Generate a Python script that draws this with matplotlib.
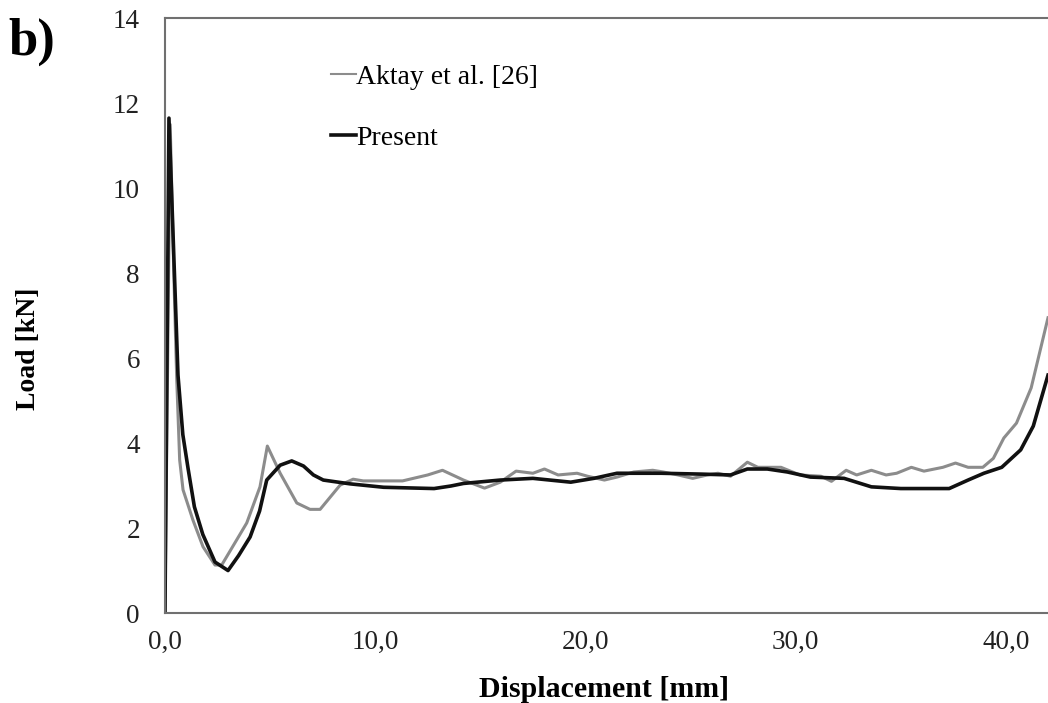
import numpy as np
import matplotlib
matplotlib.use('Agg')
import matplotlib.pyplot as plt
from matplotlib.ticker import FuncFormatter, MultipleLocator

plt.rcParams['font.family'] = ['Liberation Serif', 'DejaVu Serif']

# load-displacement curves (displacement in mm, load in kN)
aktay_disp = [0.0, 0.25, 0.42, 0.56, 0.7, 0.86, 1.33, 1.81, 2.38, 2.7, 3.41,
              3.89, 4.52, 4.87, 5.48, 6.27, 6.9, 7.38, 8.33, 8.95, 9.43,
              11.3, 12.5, 13.2, 14.2, 15.2, 15.95, 16.7, 17.5, 18.05, 18.7,
              19.6, 20.1, 20.9, 21.5, 22.3, 23.2, 23.7, 24.4, 25.1, 25.8,
              26.3, 26.9, 27.7, 28.2, 29.3, 30.2, 31.2, 31.7, 32.4, 32.9,
              33.6, 34.3, 34.8, 35.5, 36.1, 37.0, 37.6, 38.2, 38.9, 39.4,
              39.9, 40.5, 41.2, 42.0]
aktay_load = [0.0, 11.5, 8.0, 5.5, 3.6, 2.9, 2.19, 1.56, 1.13, 1.13, 1.72,
              2.12, 2.97, 3.93, 3.29, 2.59, 2.44, 2.44, 3.01, 3.15, 3.11,
              3.11, 3.25, 3.36, 3.13, 2.94, 3.08, 3.34, 3.29, 3.39, 3.25,
              3.29, 3.22, 3.13, 3.2, 3.32, 3.36, 3.32, 3.25, 3.17, 3.25,
              3.29, 3.22, 3.55, 3.43, 3.43, 3.25, 3.22, 3.1, 3.36, 3.25,
              3.36, 3.25, 3.29, 3.43, 3.34, 3.43, 3.53, 3.43, 3.43, 3.64,
              4.12, 4.47, 5.3, 6.95]

present_disp = [0.0, 0.19, 0.45, 0.62, 0.85, 1.1, 1.4, 1.8, 2.38, 3.0, 3.5,
                4.05, 4.5, 4.84, 5.48, 6.03, 6.59, 7.06, 7.53, 8.81, 10.4,
                12.8, 13.6, 14.2, 15.95, 17.5, 19.3, 20.4, 21.5, 23.6, 25.5,
                26.9, 27.7, 28.65, 29.6, 30.7, 32.3, 33.6, 35.0, 37.3, 38.2,
                38.95, 39.8, 40.7, 41.3, 42.0]
present_load = [0.0, 11.65, 8.0, 5.6, 4.2, 3.4, 2.5, 1.85, 1.2, 1.0, 1.35,
                1.79, 2.4, 3.13, 3.48, 3.58, 3.46, 3.25, 3.13, 3.04, 2.96,
                2.93, 2.99, 3.05, 3.13, 3.17, 3.08, 3.17, 3.29, 3.29, 3.27,
                3.25, 3.39, 3.39, 3.32, 3.2, 3.17, 2.97, 2.93, 2.93, 3.13,
                3.29, 3.43, 3.84, 4.4, 5.6]

fig = plt.figure(figsize=(10.48, 7.03), dpi=100)
ax = fig.add_axes([0.1574, 0.128, 0.8426, 0.846])

ax.plot(aktay_disp, aktay_load, color='#8c8c8c', lw=2.2, label='Aktay et al. [26]')
ax.plot(present_disp, present_load, color='#111111', lw=2.6, label='Present')

ax.set_xlim(0, 42)
ax.set_ylim(0, 14)
ax.xaxis.set_major_locator(MultipleLocator(10))
ax.yaxis.set_major_locator(MultipleLocator(2))
ax.xaxis.set_major_formatter(FuncFormatter(lambda v, p: f'{v:.1f}'.replace('.', ',')))
ax.tick_params(length=0, labelsize=19.5, colors='#222222')
ax.tick_params(axis='x', pad=12)
ax.tick_params(axis='y', pad=18)

for side in ['left', 'bottom', 'top']:
    ax.spines[side].set_color('#707070')
    ax.spines[side].set_linewidth(1.5)
ax.spines['right'].set_visible(False)

ax.set_xlabel('Displacement [mm]', fontsize=21.5, fontweight='bold')
ax.xaxis.set_label_coords(0.497, -0.128)
ax.set_ylabel('Load [kN]', fontsize=20, fontweight='bold')
ax.yaxis.set_label_coords(-0.154, 0.445)
ax.yaxis.label.set_va('center')
ax.xaxis.label.set_va('center')

leg = ax.legend(loc='upper left', bbox_to_anchor=(0.16, 0.965), frameon=False,
                fontsize=20, handlelength=0.9, handletextpad=0.0,
                labelspacing=1.3)
leg.get_lines()[0].set_linewidth(1.5)
leg.get_lines()[1].set_linewidth(2.6)

fig.text(0.008, 0.975, 'b)', fontsize=38, fontweight='bold', va='top', ha='left')

fig.savefig('out.png', dpi=100)
